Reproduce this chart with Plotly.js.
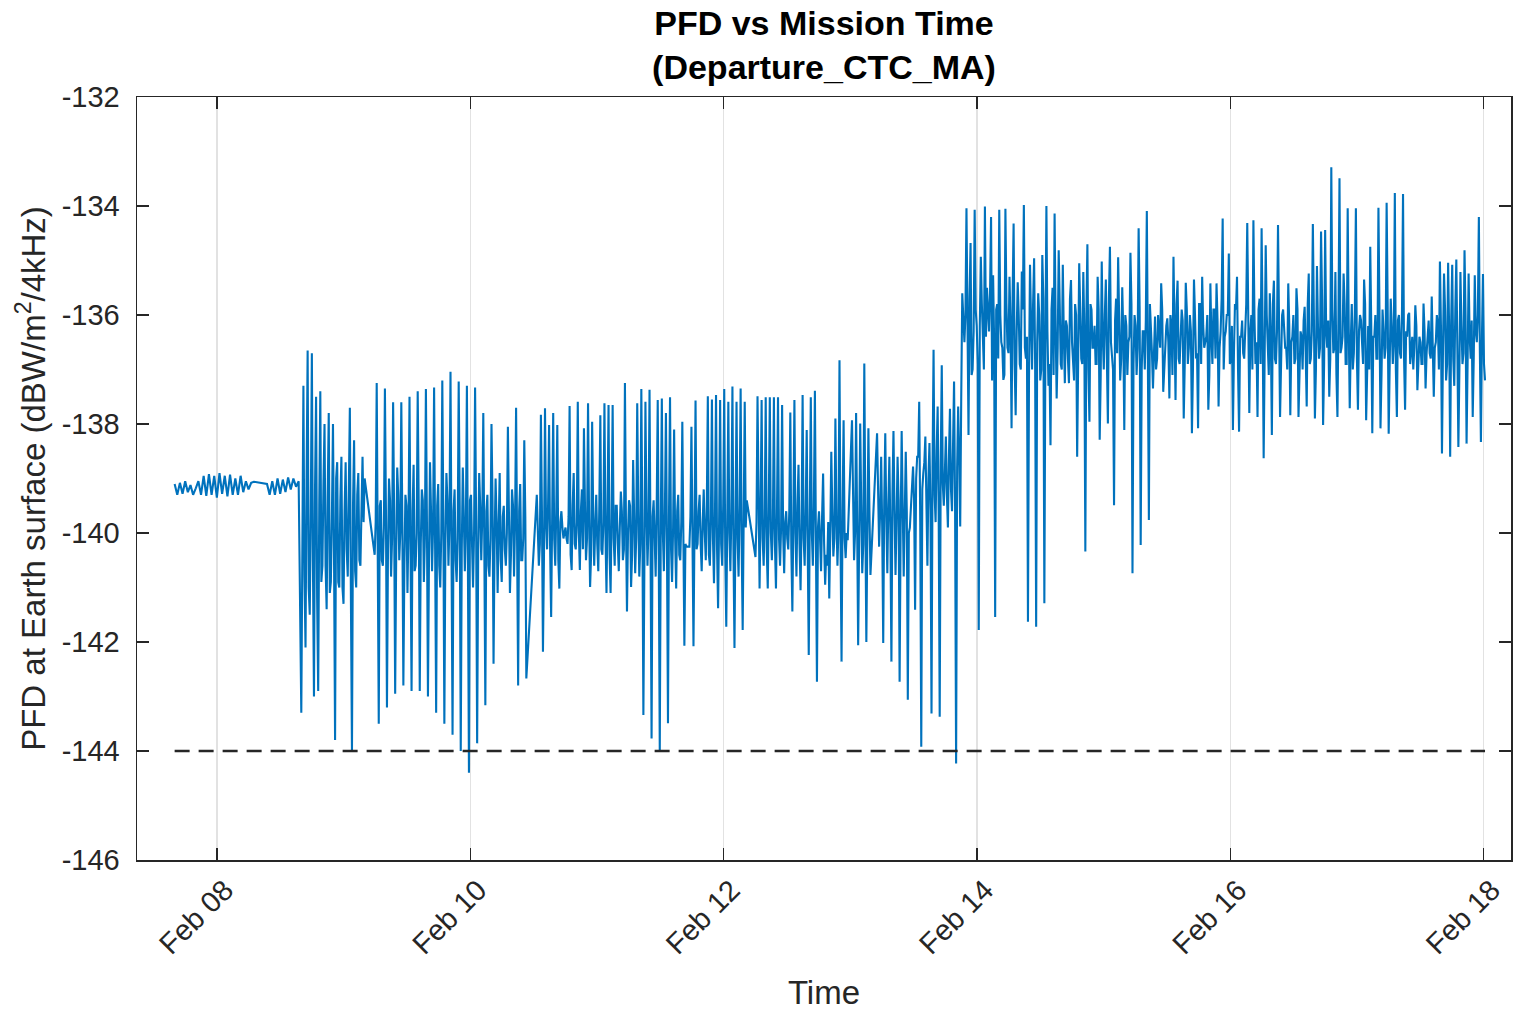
<!DOCTYPE html>
<html>
<head>
<meta charset="utf-8">
<script src="https://cdn.plot.ly/plotly-3.0.1.min.js"></script>
<style>html,body{margin:0;padding:0;background:#fff;}#chart{width:1518px;height:1011px;}</style>
</head>
<body>
<div id="chart"></div>
<script>
// ---- Data ----
const baseDate = [2025, 1, 8];            // Feb 08 00:00 (hour 0)
const limitValue = -144;                  // dashed PFD limit line
const xTickDays = ['2025-02-08', '2025-02-10', '2025-02-12', '2025-02-14', '2025-02-16', '2025-02-18'];
const yTickVals = [-146, -144, -142, -140, -138, -136, -134, -132];

// segment start (hours after Feb 08 00:00) and sample step (minutes)
const segStartHours = [-8.0, 9.5, 16.0, 29.9, 60.62, 89.53, 102.05, 120.34, 125.09, 131.91, 141.64];
const segStepMinutes = [30, 30, 24, 23.3, 23.3, 23.3, 23.3, 23.3, 23.3, 23.3, 23.3];

// main samples of each segment (spike tops / bottoms and core)
const segA = [-139.1,-139.3,-139.08,-139.28,-139.05,-139.25,-139.12,-139.3,-139.18,-139.05,-139.3,-138.95,-139.32,-138.92,-139.3,-138.95,-139.35,-138.9,-139.28,-138.95,-139.33,-138.93,-139.3,-139.0,-139.3,-138.95,-139.25,-139.05,-139.2,-139.08,-139.06];
const segB = [-139.1,-139.3,-139.05,-139.3,-139.0,-139.28,-139.02,-139.25,-138.98,-139.2,-139.0,-139.15,-139.05];
const segC = [-143.3,-137.3,-142.1,-136.65,-141.5,-136.7,-143.0,-137.5,-142.9,-137.4,-140.6,-138.0,-141.4,-137.8,-140.9,-138.0,-143.8,-138.7,-141.0,-138.6,-141.3,-138.7,-140.8,-137.7,-144.0,-138.3,-141.0,-138.9,-140.6,-138.6,-139.0];
const segD = [-140.4,
 -137.25,-143.5,-139.4,-140.6, -137.35,-143.2,-139.0,-140.8, -137.6,-142.95,-138.8,-140.5,
 -137.6,-142.8,-139.3,-141.1, -137.5,-142.9,-138.75,-140.6, -137.4,-142.9,-139.2,-140.9,
 -137.36,-143.0,-138.7,-140.7, -137.33,-143.3,-139.1,-141.0, -137.2,-143.5,-138.9,-140.6,
 -137.04,-143.7,-139.2,-140.9, -137.22,-144.0,-138.8,-140.7, -137.3,-144.4,-139.3,-141.0,
 -137.33,-143.86,-138.9,-140.5, -137.8,-143.16,-139.3,-140.8, -138.0,-142.4,-139.0,-141.1,
 -138.9,-140.9,-139.5,-140.6, -138.05,-141.1,-139.2,-140.8, -137.7,-142.8,-139.1,-140.5,
 -138.3,-142.67];
const segE = [-139.3,-140.6,-137.83,-142.18,-137.71,-140.3,-138.02,-141.54,-137.8,-140.6,
 -138.02,-141.02,-139.6,-140.1,-139.9,-140.2,-137.67,-140.68,-138.9,-140.3,
 -137.59,-140.68,-139.2,-138.08,-140.5,-137.62,-140.99,-137.96,-140.6,-139.3,
 -140.7,-137.84,-140.4,-137.62,-141.1,-137.65,-141.1,-137.65,-140.6,-139.5,
 -140.7,-139.24,-140.5,-137.25,-141.44,-139.4,-140.99,-138.66,-140.74,-137.62,
 -140.8,-137.36,-143.34,-137.59,-140.6,-137.37,-143.77,-139.4,-140.8,-137.56,
 -143.98,-137.53,-140.7,-137.8,-143.49,-137.51,-140.9,-138.1,-141.02,-139.3,
 -140.5,-137.96,-142.07,-140.25];
const segF = [-140.25,-138.05,-142.08,-137.57,-140.2,-139.3,-140.7,-139.2,-140.5,-137.49,
 -140.6,-137.55,-140.92,-137.47,-141.38,-137.56,-140.6,-137.36,-141.72,-137.59,
 -140.7,-137.31,-142.11,-137.59,-140.8,-137.35,-141.78,-137.59,-139.4];
const segG = [-140.44,-137.49,-141.02,-137.56,-140.6,-137.51,-141.02,-137.51,-140.5,-137.51,
 -141.02,-137.51,-140.6,-137.65,-140.74,-139.6,-140.3,-137.79,-141.44,-137.56,
 -140.8,-138.75,-141.05,-137.47,-140.6,-138.11,-142.24,-137.51,-140.6,-137.39,
 -142.73,-139.6,-140.7,-138.91,-140.95,-140.6,-141.2,-138.51,-140.43,-137.9,
 -140.6,-136.83,-142.36,-137.93,-140.46,-140.13];
const segH = [-137.93,-140.5,-137.8,-142.06,-137.99,-140.74,-136.89,-142.0,-138.08,-140.77];
const segI = [-138.17,-140.25,-138.6,-142.02,-138.17,-140.74,-138.6,-142.36,-138.13,-140.77,
 -138.6,-142.73,-138.13,-140.8,-138.51,-143.06,-139.9];
const segJ = [-138.78,-141.41,-138.6,-137.59,-143.92,-138.9,-138.23,-140.6,-138.35,-143.31,
 -136.64,-139.8,-137.68,-143.37,-136.92,-139.5,-138.23,-139.9,-137.72,-139.6,
 -137.22,-144.23,-137.68,-139.88,-135.6];
const segK = [-136.5,-134.04,-138.2,-134.68,-137.0,-134.07,-136.2,-141.78,-134.93,-136.6,
 -134.01,-135.5,-136.3,-134.2,-135.27,-141.54,-135.8,-134.07,-136.5,-137.19,
 -134.05,-136.6,-135.3,-138.08,-134.32,-137.84,-135.4,-136.9,-135.2,-133.98,
 -136.8,-141.63,-135.08,-137.0,-134.96,-141.72,-135.6,-137.2,-134.9,-141.29,
 -134.0,-137.3,-138.39,-135.5,-134.14,-137.53,-134.81,-136.9,-135.08,-137.25,
 -136.2,-137.25,-135.36,-136.9,-135.8,-138.6,-135.05,-136.8,-135.21,-140.34,
 -134.7,-137.96,-135.9,-136.6,-136.9,-135.3,-138.29,-135.02,-137.0,-135.35,
 -137.99,-134.75,-136.8,-139.49,-135.7,-134.94,-137.2,-135.49,-138.11,-136.2,
 -136.5,-134.86,-140.74,-136.0,-137.1,-134.41,-140.22,-136.3,-137.0,-134.09,
 -139.76,-136.2,-137.35,-136.03,-136.8,-136.4,-135.42,-137.41,-136.5,-136.06,
 -137.53,-136.2,-134.93,-137.56,-135.37,-136.9,-135.9,-137.9,-135.41,-136.9,
 -136.0,-138.17,-135.35,-136.8,-138.08,-135.8,-135.3,-136.6,-136.4,-137.74,
 -135.42,-136.9,-135.9,-135.42,-137.68,-136.3,-134.23,-136.4,-136.0,-134.87,
 -136.8,-138.11,-135.8,-135.3,-138.14,-136.4,-136.7,-136.2,-134.31,-137.8,
 -136.0,-134.26,-136.9,-137.87,-135.7,-134.41,-138.63,-134.72,-136.8,-135.6,
 -138.2,-135.37,-136.9,-134.35,-137.87,-136.0,-136.3,-136.6,-135.42,-137.84,
 -136.4,-136.9,-135.51,-137.87,-136.3,-137.0,-135.85,-137.68,-135.24,-136.8,
 -134.33,-137.9,-135.1,-136.8,-134.47,-138.02,-134.44,-136.6,-137.5,-133.29,
 -136.7,-135.21,-137.87,-133.49,-136.6,-135.24,-136.9,-134.04,-137.71,-135.8,
 -136.7,-134.04,-137.74,-136.0,-136.6,-135.35,-137.93,-136.2,-134.75,-138.17,
 -136.4,-136.8,-134.03,-138.08,-135.9,-136.8,-133.94,-138.18,-135.7,-136.9,
 -133.76,-137.87,-136.0,-136.8,-133.78,-137.74,-136.4,-135.96,-136.6,-137.0,
 -135.82,-137.38,-136.4,-136.9,-135.79,-137.35,-136.3,-136.7,-135.66,-137.5,
 -136.5,-136.2,-135.02,-138.54,-135.24,-137.2,-135.04,-138.6,-135.08,-137.3,
 -134.98,-138.42,-135.21,-136.9,-134.81,-138.36,-135.24,-136.8,-137.87,-135.27,
 -136.5,-134.20,-138.33,-135.25,-137.2];

// in-between core samples (half a step after each main sample) — the dense core band
const midC = [-139.4,-140.8,-139.0,-141.0,-139.6,-140.5,-139.2,-141.2,-139.5,-140.9,-139.1,-140.6,-139.3,-141.1,-139.7,-140.4,-139.0,-140.9,-139.4,-141.0,-139.6,-140.3,-139.2,-141.2,-139.5,-140.7,-139.3,-140.5,-139.6,-139.8];
const midD = [-139.8,-140.2,-139.5,-140.5,-139.9,-139.6,-140.3,-139.4,
 -140.1,-139.7,-140.4,-139.3,-140.0,-139.8,-140.6,-139.5,
 -139.9,-140.3,-139.6,-140.7,-140.0,-139.5,-140.2,-139.4,
 -140.1,-139.8,-140.5,-139.6,-139.9,-140.3,-139.5,-140.6,
 -140.0,-139.7,-140.2,-139.4,-139.8,-140.4,-139.6,-140.5,
 -140.1,-139.5,-140.3,-139.7,-139.9,-140.6,-139.4,-140.2,
 -140.0,-139.8,-140.4,-139.5,-139.7,-140.3,-139.6,-140.6,
 -140.1,-139.4,-140.2,-139.8,-139.9,-140.5,-139.7,-140.3,
 -140.0,-139.6,-140.4,-139.5,-139.8,-140.2,-139.6,-140.5,
 -140.1,-139.7];
const midE = [-139.9,-140.2,-139.6,-140.4,-139.8,-139.5,-140.3,-139.7,-140.1,-139.6,
 -140.5,-139.8,-139.9,-140.0,-140.1,-139.7,-140.4,-139.5,-140.2,-139.8,
 -140.0,-139.6,-140.3,-139.5,-140.1,-139.7,-140.4,-139.6,-139.9,-140.2,
 -139.5,-140.3,-139.8,-140.0,-139.6,-140.4,-139.7,-140.1,-139.5,-140.2,
 -139.9,-139.6,-140.3,-139.8,-140.0,-139.5,-140.4,-139.7,-140.1,-139.6,
 -140.2,-139.8,-140.5,-139.6,-139.9,-140.3,-139.7,-140.1,-139.5,-140.4,
 -139.8,-140.0,-139.6,-140.2,-139.7,-140.3,-139.9,-140.1,-139.6,-140.4,
 -139.8,-140.0,-140.2];
const midF = [-139.7,-140.1,-139.9,-140.3,-139.6,-140.2,-139.8,-140.0,-139.5,-140.4,
 -139.7,-140.1,-139.6,-140.3,-139.8,-140.2,-139.5,-140.4,-139.7,-140.0,
 -139.6,-140.3,-139.8,-140.1,-139.5,-140.2,-139.7,-139.9];
const midG = [-139.8,-140.2,-139.6,-140.1,-139.7,-140.3,-139.5,-140.0,-139.8,-140.2,
 -139.6,-140.1,-139.9,-140.0,-139.8,-140.1,-139.6,-140.3,-139.7,-140.0,
 -139.5,-140.2,-139.8,-140.1,-139.6,-140.3,-139.7,-140.0,-139.5,-140.2,
 -139.9,-140.1,-139.7,-140.2,-140.4,-139.8,-140.0,-139.6,-140.1,-139.7,
 -139.9,-140.2,-139.6,-140.1,-140.0];
const midH = [-139.6,-140.0,-139.8,-140.1,-139.5,-140.2,-139.7,-140.0,-139.6];
const midI = [-139.3,-139.6,-139.9,-139.4,-139.7,-139.5,-140.0,-139.3,-139.6,-139.8,-139.4,-139.9,-139.5,-139.7,-139.6,-140.0];
const midJ = [-139.4,-139.0,-138.6,-139.8,-139.2,-138.7,-139.5,-139.0,-139.6,-138.8,-139.3,-138.5,-139.6,-138.7,-139.1,-138.9,-139.3,-138.6,-139.2,-138.4,-139.5,-138.8,-138.6,-137.5];
const midK = [-136.0,-136.8,-135.7,-137.1,-136.3,-135.9,-136.9,-136.2,-135.8,-137.0,
 -136.4,-136.1,-135.6,-137.2,-136.5,-135.9,-136.8,-136.0,-136.6,-137.1,
 -135.8,-136.7,-136.2,-135.7,-136.9,-136.3,-136.0,-137.0,-135.9,-136.6,
 -136.4,-137.2,-136.1,-135.8,-136.9,-136.5,-136.0,-137.0,-135.7,-136.6,
 -136.3,-136.9,-135.9,-137.1,-136.2,-136.6,-135.8,-137.0,-136.4,-136.1,
 -136.8,-135.7,-136.5,-137.2,-136.0,-136.7,-135.9,-136.9,-136.3,-136.0,
 -137.0,-135.8,-136.6,-136.2,-136.9,-135.9,-137.1,-136.4,-136.0,-136.8,
 -135.7,-136.5,-137.0,-136.1,-136.7,-135.9,-136.8,-136.3,-136.0,-137.1,
 -136.4,-135.8,-136.9,-136.2,-136.6,-135.9,-137.0,-136.3,-136.1,-136.8,
 -135.8,-136.7,-136.4,-137.0,-136.0,-136.6,-135.9,-136.9,-136.2,-136.5,
 -136.0,-137.1,-136.3,-135.8,-136.8,-136.4,-136.1,-136.9,-135.9,-136.6,
 -136.3,-137.0,-136.0,-136.7,-135.8,-136.9,-136.2,-136.5,-136.0,-137.1,
 -136.4,-135.9,-136.8,-136.1,-136.6,-135.7,-137.0,-136.3,-136.0,-136.9,
 -136.2,-136.7,-135.9,-137.0,-136.4,-136.1,-136.8,-135.8,-136.6,-136.3,
 -137.0,-136.0,-136.5,-135.9,-136.9,-136.2,-136.7,-136.0,-137.1,-136.4,
 -135.8,-136.8,-136.3,-136.0,-136.9,-135.9,-136.6,-137.0,-136.2,-136.5,
 -136.0,-136.8,-135.9,-137.1,-136.4,-136.1,-136.7,-135.8,-136.9,-136.3,
 -136.0,-137.0,-136.2,-136.6,-135.7,-136.9,-136.3,-136.1,-136.8,-135.9,
 -136.6,-137.1,-136.0,-136.7,-136.4,-135.8,-136.9,-136.2,-136.5,-137.0,
 -135.9,-136.8,-136.3,-136.1,-136.9,-135.8,-136.6,-137.0,-136.2,-136.4,
 -136.0,-136.8,-135.9,-137.1,-136.3,-136.6,-135.8,-136.9,-136.2,-136.5,
 -137.0,-136.1,-136.7,-135.9,-136.8,-136.3,-136.0,-136.9,-136.4,-136.6,
 -136.2,-136.8,-136.5,-136.9,-136.3,-136.7,-136.1,-136.8,-136.4,-136.6,
 -136.0,-137.0,-136.2,-136.6,-135.9,-136.9,-136.3,-136.1,-136.8,-135.9,
 -136.6,-137.0,-136.2,-136.7,-136.0,-136.9,-136.4,-136.1,-136.8,-136.3,
 -136.0,-136.7,-136.4,-136.9];

const segValues = [segA, segB, segC, segD, segE, segF, segG, segH, segI, segJ, segK];
const segMids   = [null, null, midC, midD, midE, midF, midG, midH, midI, midJ, midK];

// ---- Build the trace from the segments (sample times on each segment's grid) ----
const baseMs = Date.UTC(baseDate[0], baseDate[1], baseDate[2]);
const hourMs = 3600000;
const xs = [], ys = [];
segValues.forEach((vals, s) => {
  const t0 = baseMs + segStartHours[s] * hourMs;
  const dt = segStepMinutes[s] * 60000;
  const mids = segMids[s];
  vals.forEach((v, i) => {
    xs.push(t0 + i * dt); ys.push(v);
    if (mids && i < mids.length) { xs.push(t0 + (i + 0.5) * dt); ys.push(mids[i]); }
  });
});

const font = 'Liberation Sans, Arial, Helvetica, sans-serif';
const axisColor = '#262626';

const traces = [
  {x: xs, y: ys, type: 'scatter', mode: 'lines',
   line: {color: '#0072BD', width: 2.1}, hoverinfo: 'skip'},
  {x: [xs[0], xs[xs.length - 1]], y: [limitValue, limitValue], type: 'scatter', mode: 'lines',
   line: {color: '#262626', width: 2.3, dash: '15px,9px'}, hoverinfo: 'skip'}
];

const layout = {
  width: 1518, height: 1011,
  margin: {l: 137, r: 7, t: 97, b: 151, pad: 0},
  paper_bgcolor: '#ffffff', plot_bgcolor: '#ffffff',
  showlegend: false,
  title: {
    text: 'PFD vs Mission Time<br>(Departure_CTC_MA)',
    font: {family: font, size: 34, color: '#000000', weight: 'bold'},
    x: 0.5, xanchor: 'center', xref: 'paper',
    y: 0.9654, yanchor: 'top', yref: 'container'
  },
  xaxis: {
    type: 'date',
    range: [baseMs - 15.13 * hourMs, baseMs + 245.2 * hourMs],
    tickvals: xTickDays, tickformat: '%b %d', tickangle: -45,
    ticks: 'inside', ticklen: 12, tickwidth: 1.3, tickcolor: axisColor,
    ticklabelshift: 8,
    showline: true, linecolor: axisColor, linewidth: 1.5, mirror: 'ticks',
    showgrid: true, gridcolor: '#e2e2e2', gridwidth: 1.3, zeroline: false,
    tickfont: {family: font, size: 29, color: axisColor},
    title: {text: 'Time', font: {family: font, size: 33, color: axisColor}, standoff: 22}
  },
  yaxis: {
    range: [-146, -132],
    tickvals: yTickVals, ticktext: yTickVals.map(v => String(v)),
    ticks: 'inside', ticklen: 12, tickwidth: 1.3, tickcolor: axisColor,
    showline: true, linecolor: axisColor, linewidth: 1.5, mirror: 'ticks',
    showgrid: false, zeroline: false, ticklabelstandoff: 10,
    tickfont: {family: font, size: 29, color: axisColor},
    title: {text: 'PFD at Earth surface (dBW/m<sup>2</sup>/4kHz)', font: {family: font, size: 33, color: axisColor}, standoff: 6}
  }
};

Plotly.newPlot('chart', traces, layout, {staticPlot: true, displayModeBar: false});
</script>
</body>
</html>
